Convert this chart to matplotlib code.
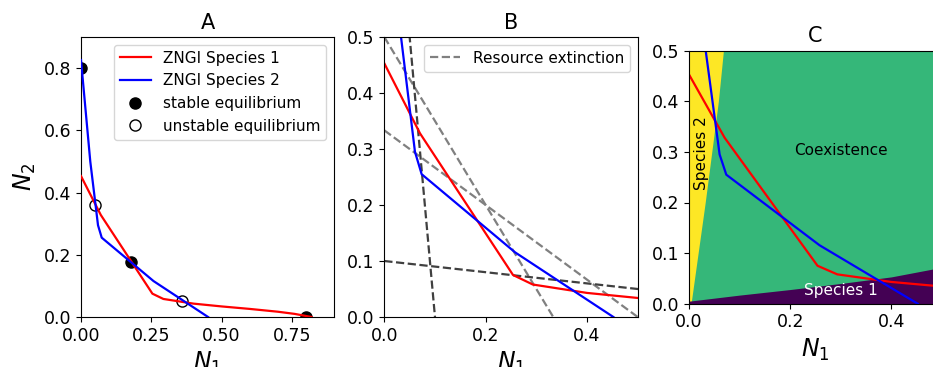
import numpy as np
import matplotlib
matplotlib.use("Agg")
import matplotlib.pyplot as plt

# ---------------- data ----------------
# ZNGI of species 1 (red)
zngi1_n1 = [0.0, 0.0704, 0.254, 0.293, 0.40, 0.50, 0.60, 0.70, 0.76, 0.82]
zngi1_n2 = [0.453, 0.328, 0.075, 0.058, 0.043, 0.034, 0.026, 0.017, 0.010, 0.0]
# ZNGI of species 2 (blue)
zngi2_n1 = [0.0, 0.033, 0.0605, 0.0737, 0.258, 0.452]
zngi2_n2 = [0.826, 0.50, 0.295, 0.255, 0.1155, 0.0]

# equilibria
stable_n1 = [0.0, 0.177, 0.80]
stable_n2 = [0.80, 0.178, 0.0]
unstable_n1 = [0.05, 0.36]
unstable_n2 = [0.36, 0.05]

# resource extinction lines: (N1 intercept, N2 intercept)
ext_gray_x = [1 / 3, 0.5]
ext_gray_y = [0.5, 1 / 3]
ext_dark_x = [0.1, 1.0]
ext_dark_y = [1.0, 0.1]

# panel C region boundaries
yellow_levels_n2 = [0.0, 0.1, 0.2, 0.3, 0.4, 0.46, 0.5]
yellow_bound_n1 = [0.004, 0.018, 0.032, 0.045, 0.058, 0.064, 0.068]
purple_levels_n1 = [0.0, 0.1, 0.2, 0.3, 0.4, 0.5]
purple_bound_n2 = [0.005, 0.017, 0.028, 0.040, 0.053, 0.072]

region_colors = {"Species 1": "#440154", "Coexistence": "#35b779", "Species 2": "#fde725"}

# ---------------- figure ----------------
W, H = 933, 367
fig = plt.figure(figsize=(W / 100, H / 100), dpi=100)


def px_axes(left, top, right, bottom):
    return fig.add_axes([left / W, 1 - bottom / H, (right - left) / W, (bottom - top) / H])


TICK = 12.5
LEG = 11
TITLE = 15
LABEL = 17

axA = px_axes(81, 37, 334, 317)
axB = px_axes(384.3, 37, 637.7, 317)
axC = px_axes(689, 50.7, 942, 303.7)

for ax in (axA, axB, axC):
    ax.tick_params(labelsize=TICK)

# ---- A ----
axA.plot(zngi1_n1, zngi1_n2, color="red", lw=1.6, label="ZNGI Species 1", zorder=3)
axA.plot(zngi2_n1, zngi2_n2, color="blue", lw=1.6, label="ZNGI Species 2", zorder=3)
axA.plot(stable_n1, stable_n2, "o", color="black", ms=8, ls="none",
         label="stable equilibrium", zorder=2)
axA.plot(unstable_n1, unstable_n2, "o", mfc="white", mec="black", ms=8, ls="none",
         label="unstable equilibrium", zorder=2)
axA.set_xlim(0, 0.9)
axA.set_ylim(0, 0.9)
axA.set_xticks([0, 0.25, 0.5, 0.75])
axA.set_yticks([0, 0.2, 0.4, 0.6, 0.8])
axA.set_xlabel("$N_1$", fontsize=LABEL)
axA.set_ylabel("$N_2$", fontsize=LABEL)
axA.set_title("A", fontsize=TITLE)
axA.legend(loc="upper right", fontsize=LEG)

# ---- B ----
xx = np.array([0.0, 1.0])
for i, (a, b) in enumerate(zip(ext_gray_x, ext_gray_y)):
    axB.plot(xx, b - b / a * xx, ls="--", color="gray", lw=1.6,
             label="Resource extinction" if i == 0 else None)
for a, b in zip(ext_dark_x, ext_dark_y):
    axB.plot(xx, b - b / a * xx, ls="--", color="#404040", lw=1.6)
axB.plot(zngi1_n1, zngi1_n2, color="red", lw=1.6)
axB.plot(zngi2_n1, zngi2_n2, color="blue", lw=1.6)
axB.set_xlim(0, 0.5)
axB.set_ylim(0, 0.5)
axB.set_xticks([0, 0.2, 0.4])
axB.set_yticks([0, 0.1, 0.2, 0.3, 0.4, 0.5])
axB.set_xlabel("$N_1$", fontsize=LABEL)
axB.set_title("B", fontsize=TITLE)
axB.legend(loc="upper right", fontsize=LEG)

# ---- C ----
axC.fill([0, 0.5, 0.5, 0], [0, 0, 0.5, 0.5], color=region_colors["Coexistence"], lw=0)
axC.fill_betweenx(yellow_levels_n2, 0, yellow_bound_n1, color=region_colors["Species 2"], lw=0)
axC.fill_between(purple_levels_n1, 0, purple_bound_n2, color=region_colors["Species 1"], lw=0)
axC.plot(zngi1_n1, zngi1_n2, color="red", lw=1.6)
axC.plot(zngi2_n1, zngi2_n2, color="blue", lw=1.6)
axC.text(0.3, 0.302, "Coexistence", fontsize=LEG, ha="center", va="center", color="black")
axC.text(0.3, 0.027, "Species 1", fontsize=LEG, ha="center", va="center", color="white")
axC.text(0.024, 0.297, "Species 2", fontsize=LEG, ha="center", va="center", color="black",
         rotation=90)
axC.set_xlim(0, 0.5)
axC.set_ylim(0, 0.5)
axC.set_xticks([0, 0.2, 0.4])
axC.set_yticks([0, 0.1, 0.2, 0.3, 0.4, 0.5])
axC.set_xlabel("$N_1$", fontsize=LABEL)
axC.set_title("C", fontsize=TITLE)

fig.savefig("out.png", dpi=100)
